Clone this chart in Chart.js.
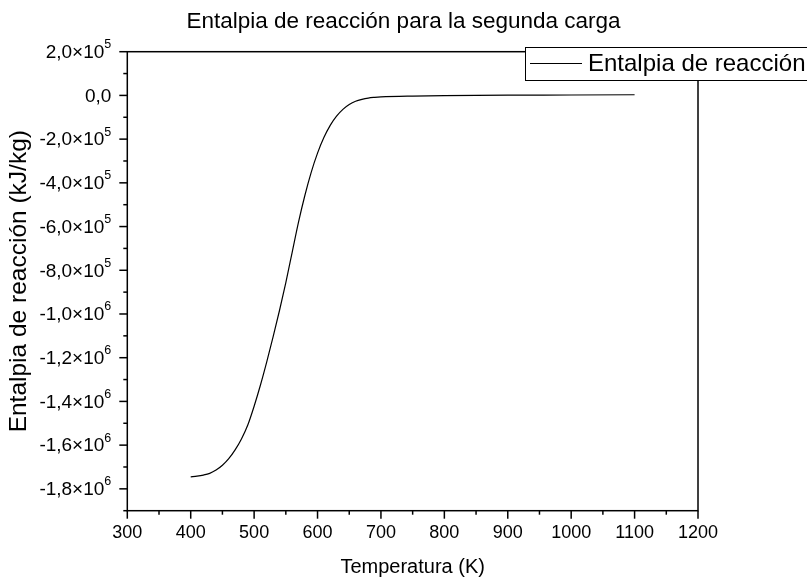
<!DOCTYPE html>
<html>
<head>
<meta charset="utf-8">
<script src="https://cdn.jsdelivr.net/npm/chart.js@4.4.1/dist/chart.umd.min.js"></script>
<style>
  body { margin: 0; background: #fff; }
  canvas { display: block; }
</style>
</head>
<body>
<canvas id="chart" width="807" height="582"></canvas>
<script>
// Data
const temps = [400, 410, 420, 430, 440, 450, 460, 470, 480, 490, 500, 510, 520, 530, 540, 550, 560, 570, 580, 590,
  600, 610, 620, 630, 640, 650, 660, 670, 680, 690, 700, 750, 800, 900, 1000, 1100];
const enthalpy = [-1745000, -1742000, -1737000, -1729000, -1714000, -1692000, -1662000, -1622000, -1572000, -1508000,
  -1422000, -1325000, -1218000, -1104000, -984000, -856000, -718000, -580000, -458000, -352000,
  -264000, -193000, -137000, -95000, -64000, -42000, -27000, -18000, -12000, -9000, -7000, -3000, -1000, 1000, 2000, 3000];

// Tick labels
const xTickValues = [300, 400, 500, 600, 700, 800, 900, 1000, 1100, 1200];
const yTickValues = [200000, 0, -200000, -400000, -600000, -800000, -1000000, -1200000, -1400000, -1600000, -1800000];
const yTickLabels = [["2,0×10", "5"], ["0,0", ""], ["-2,0×10", "5"], ["-4,0×10", "5"], ["-6,0×10", "5"], ["-8,0×10", "5"],
  ["-1,0×10", "6"], ["-1,2×10", "6"], ["-1,4×10", "6"], ["-1,6×10", "6"], ["-1,8×10", "6"]];

const seriesName = "Entalpia de reacción";
const FONT = "'Liberation Sans', Arial, sans-serif";

Chart.defaults.font.family = FONT;
Chart.defaults.color = "#000";

// Origin-style frame, ticks, y labels with exponents and the legend box
const decor = {
  id: "decor",
  afterDraw(chart) {
    const { ctx, chartArea: a, scales: { x, y } } = chart;
    ctx.save();
    ctx.strokeStyle = "#000";

    // frame
    ctx.lineWidth = 1.5;
    ctx.strokeRect(a.left, a.top, a.right - a.left, a.bottom - a.top);

    // x ticks (major + minor)
    for (let v = x.min; v <= x.max; v += 50) {
      const px = x.getPixelForValue(v);
      const len = v % 100 === 0 ? 8 : 4;
      ctx.beginPath();
      ctx.moveTo(px, a.bottom);
      ctx.lineTo(px, a.bottom + len);
      ctx.stroke();
    }
    // y ticks (major + minor)
    for (let v = y.max; v >= y.min; v -= 100000) {
      const py = y.getPixelForValue(v);
      const len = Math.round(v / 100000) % 2 === 0 ? 8 : 4;
      ctx.beginPath();
      ctx.moveTo(a.left, py);
      ctx.lineTo(a.left - len, py);
      ctx.stroke();
    }

    // y tick labels with superscript exponent
    ctx.fillStyle = "#000";
    ctx.textBaseline = "middle";
    yTickValues.forEach((v, i) => {
      const [base, exp] = yTickLabels[i];
      const py = y.getPixelForValue(v);
      let right = a.left - 16;
      if (exp) {
        ctx.font = "12.5px " + FONT;
        ctx.textAlign = "right";
        ctx.fillText(exp, right, py - 7);
        right -= ctx.measureText(exp).width;
      }
      ctx.font = "19px " + FONT;
      ctx.textAlign = "right";
      ctx.fillText(base, right, py + 1);
    });

    // legend
    ctx.fillStyle = "#fff";
    ctx.fillRect(525.5, 47.5, 300, 33);
    ctx.lineWidth = 1;
    ctx.strokeRect(525.5, 47.5, 300, 33);
    ctx.beginPath();
    ctx.moveTo(530, 63.5);
    ctx.lineTo(582, 63.5);
    ctx.stroke();
    ctx.fillStyle = "#000";
    ctx.font = "24px " + FONT;
    ctx.textAlign = "left";
    ctx.textBaseline = "middle";
    ctx.fillText(seriesName, 588, 64);
    ctx.restore();
  }
};

new Chart(document.getElementById("chart"), {
  type: "line",
  data: {
    datasets: [{
      label: seriesName,
      data: temps.map((t, i) => ({ x: t, y: enthalpy[i] })),
      borderColor: "#000",
      borderWidth: 1.2,
      pointRadius: 0,
      fill: false,
      cubicInterpolationMode: "monotone"
    }]
  },
  options: {
    responsive: false,
    animation: false,
    layout: { padding: 0 },
    plugins: {
      legend: { display: false },
      tooltip: { enabled: false },
      title: {
        display: true,
        fullSize: true,
        text: "Entalpia de reacción para la segunda carga",
        font: { size: 22.5, weight: "normal" },
        color: "#000",
        padding: { top: 8.5, bottom: 16.2 }
      }
    },
    scales: {
      x: {
        type: "linear",
        min: 300,
        max: 1200,
        grid: { display: false },
        border: { display: false },
        ticks: {
          stepSize: 100,
          autoSkip: false,
          maxRotation: 0,
          padding: 4,
          font: { size: 18 },
          callback: v => xTickValues.includes(v) ? String(v) : ""
        },
        title: {
          display: true,
          text: "Temperatura (K)",
          font: { size: 20 },
          padding: { top: 0, bottom: 3 }
        },
        afterFit: s => { s.height = 71.3; }
      },
      y: {
        min: -1900000,
        max: 200000,
        grid: { display: false },
        border: { display: false },
        ticks: { display: false },
        title: {
          display: true,
          text: "Entalpia de reacción (kJ/kg)",
          font: { size: 24.5 },
          padding: { top: 5, bottom: 0 }
        },
        afterFit: s => { s.width = 127.3; }
      },
      // empty right-hand space, like the reference
      yRight: {
        position: "right",
        min: -1900000,
        max: 200000,
        grid: { display: false },
        border: { display: false },
        ticks: { display: false },
        afterFit: s => { s.width = 109; }
      }
    }
  },
  plugins: [decor]
});
</script>
</body>
</html>
